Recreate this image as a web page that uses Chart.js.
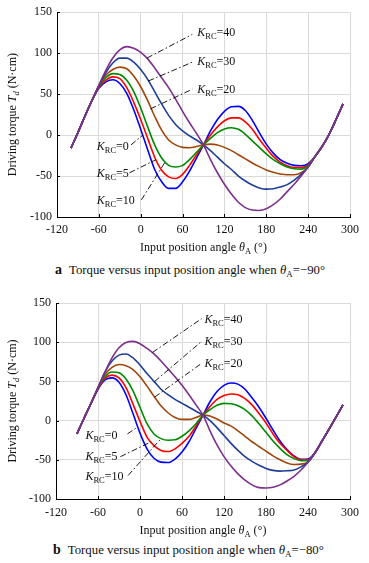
<!DOCTYPE html>
<html>
<head>
<meta charset="utf-8">
<script src="https://cdn.jsdelivr.net/npm/chart.js@4.4.0/dist/chart.umd.min.js"></script>
<style>
  body { margin: 0; background: #fff; width: 369px; height: 563px; position: relative; overflow: hidden; font-family: "Liberation Serif", "Times New Roman", serif; color: #111; }
  canvas { position: absolute; left: 0; }
  .cap { position: absolute; white-space: nowrap; font-size: 12.8px; line-height: 16px; }
  .cap b { font-size: 14px; margin-right: 4px; }
  .cap sub { font-size: 9px; vertical-align: -3px; line-height: 0; }
</style>
</head>
<body>
<canvas id="chartA" width="369" height="260" style="top:0"></canvas>
<div class="cap" style="left:55px;top:262px"><b>a</b> Torque versus input position angle when <i>θ</i><sub>A</sub>=−90°</div>
<canvas id="chartB" width="369" height="256" style="top:282px"></canvas>
<div class="cap" style="left:53px;top:542px"><b>b</b> Torque versus input position angle when <i>θ</i><sub>A</sub>=−80°</div>
<script>
// axes
const xTicks = [-120, -60, 0, 60, 120, 180, 240, 300];
const yTicks = [-100, -50, 0, 50, 100, 150];

// K_RC values and line colours
const kValues = ['40', '30', '20', '10', '5', '0'];
const kColors = ['#7e2f8e', '#1f3f96', '#a0460a', '#008a00', '#ff0000', '#0000ff'];

// (a) theta_A = -90 deg
const anglesA = [-100, -90, -80, -70, -60, -50, -40, -30, -20, -10, 0, 10, 20, 30, 40, 50, 60, 70, 80, 90,
  100, 110, 120, 130, 140, 150, 160, 170, 180, 190, 200, 210, 220, 230, 240, 250, 260, 270, 280, 290];
const torqueA_K40 = [-16, 3, 23, 42, 61, 79, 94, 104, 108, 106, 101, 93, 82, 70, 58, 44, 29, 15, 2, -12,
  -30, -46, -60, -72, -82, -88.5, -91.5, -92, -90, -85, -78, -69, -60, -50, -39, -26, -14, 1, 19, 38];
const torqueA_K30 = [-16, 3, 23, 42, 60, 76, 88, 94, 94, 89, 80, 68, 53, 38, 24, 13, 5, -1, -6, -12,
  -19, -27, -35, -42, -50, -56, -61, -64.5, -66, -65.5, -63.5, -60.5, -55, -48, -39, -26, -14, 1, 19, 38];
const torqueA_K20 = [-16, 3, 23, 42, 60, 73, 80, 83, 81, 72, 59, 42, 23, 6, -6, -12, -15, -15.5, -14, -12,
  -11, -12, -15, -19, -24, -29, -34, -38.5, -42.5, -45.5, -47.5, -48.5, -48.5, -46, -39, -26, -14, 1, 19, 38];
const torqueA_K10 = [-16, 3, 23, 42, 59, 70, 75, 74, 67, 53, 33, 10, -12, -28, -37, -39, -37, -30, -21, -12,
  -4, 3, 7.5, 9, 7, 1, -7, -15, -23, -30, -35, -39, -41, -41.5, -37, -26, -14, 1, 19, 38];
const torqueA_K5 = [-16, 3, 23, 42, 58, 67, 71, 69, 58, 40, 19, -4, -27, -43, -51, -53, -48, -37, -24, -12,
  0, 10, 17.5, 21, 21, 16, 7, -5, -16, -26, -33, -37.5, -39.5, -39.5, -36, -26, -14, 1, 19, 38];
const torqueA_K0 = [-16, 3, 23, 42, 57, 65, 67.5, 63, 51, 31, 7, -18, -42, -57, -65, -65, -57, -44, -28, -12,
  5, 19, 29, 34.5, 35, 30, 18, 3, -11, -22, -30, -34.5, -37, -37.5, -35, -26, -14, 1, 19, 38];

// (b) theta_A = -80 deg
const anglesB = [-90, -80, -70, -60, -50, -40, -30, -20, -10, 0, 10, 20, 30, 40, 50, 60, 70, 80, 90,
  100, 110, 120, 130, 140, 150, 160, 170, 180, 190, 200, 210, 220, 230, 240, 250, 260, 270, 280, 290];
const torqueB_K40 = [-17, 3, 22, 42.5, 62, 80, 93, 99.5, 101, 98, 92, 85, 76, 66, 56, 45, 33, 20, 7,
  -13, -31, -46, -58, -68, -76, -82, -85.5, -86, -85, -82, -77, -71, -63, -53, -41, -26, -11, 4.5, 20];
const torqueB_K30 = [-17, 3, 22, 42, 62, 76, 83.5, 85, 80, 71, 60, 50, 40, 33, 27, 22, 17, 12, 7,
  0, -9, -19, -29, -38, -46, -52, -57, -61, -63.5, -64.5, -64, -63, -59, -53, -41, -26, -11, 4.5, 20];
const torqueB_K20 = [-17, 3, 22, 41.5, 59, 68, 71.5, 70, 65, 56, 44, 31, 19, 10, 4, 1.5, 1.5, 4, 7,
  6, 2, -3, -7, -13, -20, -27, -33, -39, -45, -50, -54, -56, -55.5, -53, -41, -26, -11, 4.5, 20];
const torqueB_K10 = [-17, 3, 22, 41, 56, 62, 61, 53, 38, 17, -4, -17, -23, -25, -24.5, -20, -13, -4, 7,
  14, 19.5, 22, 21.5, 19, 14, 6, -4, -15, -26, -35.5, -43.5, -48.5, -51, -51, -41, -26, -11, 4.5, 20];
const torqueB_K5 = [-17, 3, 22, 40.5, 54, 58, 54.5, 42, 21, -1, -21, -32, -38, -39.5, -36, -29, -20, -7, 7,
  18, 27, 32, 34, 33, 28, 20, 9, -3, -17, -29, -38, -46, -50, -50, -41, -26, -11, 4.5, 20];
const torqueB_K0 = [-17, 3, 22, 40, 52, 54.5, 49, 33, 9, -16, -36, -48, -53, -53.5, -49, -40, -27, -10, 7,
  24, 37, 45, 48, 46.5, 40, 29, 17, 3, -12, -26, -37, -45, -49.5, -49, -41, -26, -11, 4.5, 20];

// leader lines: [x0, y0, x1, y1] in data units, one per K_RC value (same order as kValues)
const leadersA = [[9, 94, 74, 123], [11, 66, 74, 89], [14, 32, 74, 56],
  [1, -79, 35, -33], [-16, -46, 22, -30], [-14, -12, 3, 0]];
const leadersB = [[18, 87, 88, 130], [21, 50, 88, 101], [21, 30, 88, 73],
  [-17, -70, 30, -23], [-28, -46, 16, -27], [-18, -17, -3, -8]];
// label anchors (left, baseline) in data units
const labelPosA = [[81, 121], [81, 85], [81, 51], [-63, -84], [-63, -51], [-63, -18]];
const labelPosB = [[92, 124], [92, 96], [92, 68], [-78, -76], [-78, -50], [-78, -23]];

const serif = '"Liberation Serif", "Times New Roman", serif';

function drawRich(ctx, parts, x, y) {
  let cx = x;
  parts.forEach((p) => {
    ctx.font = p.font;
    ctx.fillText(p.t, cx, y + (p.dy || 0));
    cx += ctx.measureText(p.t).width;
  });
  return cx - x;
}

function richWidth(ctx, parts) {
  let w = 0;
  parts.forEach((p) => {
    ctx.font = p.font;
    w += ctx.measureText(p.t).width;
  });
  return w;
}

const decor = {
  id: 'decor',
  afterDraw(chart, args, opts) {
    const ctx = chart.ctx;
    const xs = chart.scales.x;
    const ys = chart.scales.y;
    const area = chart.chartArea;
    ctx.save();
    // inner tick marks
    ctx.strokeStyle = '#000';
    ctx.lineWidth = 1;
    ctx.beginPath();
    xTicks.forEach((v) => {
      const px = Math.round(xs.getPixelForValue(v)) + 0.5;
      ctx.moveTo(px, area.bottom);
      ctx.lineTo(px, area.bottom - 3);
    });
    yTicks.forEach((v) => {
      const py = Math.round(ys.getPixelForValue(v)) + 0.5;
      ctx.moveTo(area.left, py);
      ctx.lineTo(area.left + 3, py);
    });
    ctx.stroke();

    ctx.fillStyle = '#111';
    ctx.textBaseline = 'alphabetic';
    // K_RC labels
    opts.labels.forEach((pos, i) => {
      const px = xs.getPixelForValue(pos[0]);
      const py = ys.getPixelForValue(pos[1]);
      drawRich(ctx, [
        {t: 'K', font: 'italic 12px ' + serif},
        {t: 'RC', font: '8.5px ' + serif, dy: 3},
        {t: '=' + kValues[i], font: '12px ' + serif},
      ], px, py);
    });

    // x axis title
    const xt = [
      {t: 'Input position angle ', font: '12px ' + serif},
      {t: 'θ', font: 'italic 12px ' + serif},
      {t: 'A', font: '8.5px ' + serif, dy: 2.5},
      {t: ' (°)', font: '12px ' + serif},
    ];
    const xw = richWidth(ctx, xt);
    drawRich(ctx, xt, (area.left + area.right) / 2 - xw / 2, area.bottom + opts.xTitleOffset);

    // y axis title
    const yt = [
      {t: 'Driving torque ', font: '12px ' + serif},
      {t: 'T', font: 'italic 12px ' + serif},
      {t: 'd', font: 'italic 8.5px ' + serif, dy: 2.5},
      {t: ' (N·cm)', font: '12px ' + serif},
    ];
    const yw = richWidth(ctx, yt);
    ctx.translate(16, (area.top + area.bottom) / 2);
    ctx.rotate(-Math.PI / 2);
    drawRich(ctx, yt, -yw / 2, 0);
    ctx.restore();
  },
};

function buildChart(id, angles, series, leaders, labels, dims) {
  const datasets = [];
  leaders.forEach((l) => {
    datasets.push({
      data: [{x: l[0], y: l[1]}, {x: l[2], y: l[3]}],
      borderColor: '#000',
      borderWidth: 0.9,
      borderDash: [6, 2.5, 1.5, 2.5],
      pointRadius: 0,
      tension: 0,
    });
  });
  series.forEach((ys, i) => {
    datasets.push({
      data: angles.map((a, j) => ({x: a, y: ys[j]})),
      borderColor: kColors[i],
      borderWidth: 1.6,
      pointRadius: 0,
      cubicInterpolationMode: 'monotone',
    });
  });

  return new Chart(document.getElementById(id), {
    type: 'line',
    data: {datasets},
    plugins: [decor],
    options: {
      responsive: false,
      animation: false,
      events: [],
      layout: {padding: {top: dims.top, right: 19, left: 0, bottom: 0}},
      scales: {
        x: {
          type: 'linear',
          min: -120,
          max: 300,
          afterFit: (scale) => { scale.height = dims.xHeight; },
          afterBuildTicks: (scale) => { scale.ticks = xTicks.map((v) => ({value: v})); },
          grid: {color: '#dadada', lineWidth: 1, drawTicks: false},
          border: {color: '#000', width: 1},
          ticks: {padding: dims.xPad, color: '#111', font: {family: serif, size: 12}, maxRotation: 0},
        },
        y: {
          type: 'linear',
          min: -100,
          max: 150,
          afterFit: (scale) => { scale.width = dims.yWidth; },
          afterBuildTicks: (scale) => { scale.ticks = yTicks.map((v) => ({value: v})); },
          grid: {color: '#dadada', lineWidth: 1, drawTicks: false},
          border: {color: '#000', width: 1},
          ticks: {padding: 5, color: '#111', font: {family: serif, size: 12}},
        },
      },
      plugins: {
        legend: {display: false},
        tooltip: {enabled: false},
        decor: {labels, xTitleOffset: dims.xTitle},
      },
    },
  });
}

buildChart('chartA', anglesA,
  [torqueA_K40, torqueA_K30, torqueA_K20, torqueA_K10, torqueA_K5, torqueA_K0],
  leadersA, labelPosA, {top: 12, xHeight: 43, xPad: 6, yWidth: 57, xTitle: 34});

buildChart('chartB', anglesB,
  [torqueB_K40, torqueB_K30, torqueB_K20, torqueB_K10, torqueB_K5, torqueB_K0],
  leadersB, labelPosB, {top: 21, xHeight: 39, xPad: 7, yWidth: 56, xTitle: 35});
</script>
</body>
</html>
